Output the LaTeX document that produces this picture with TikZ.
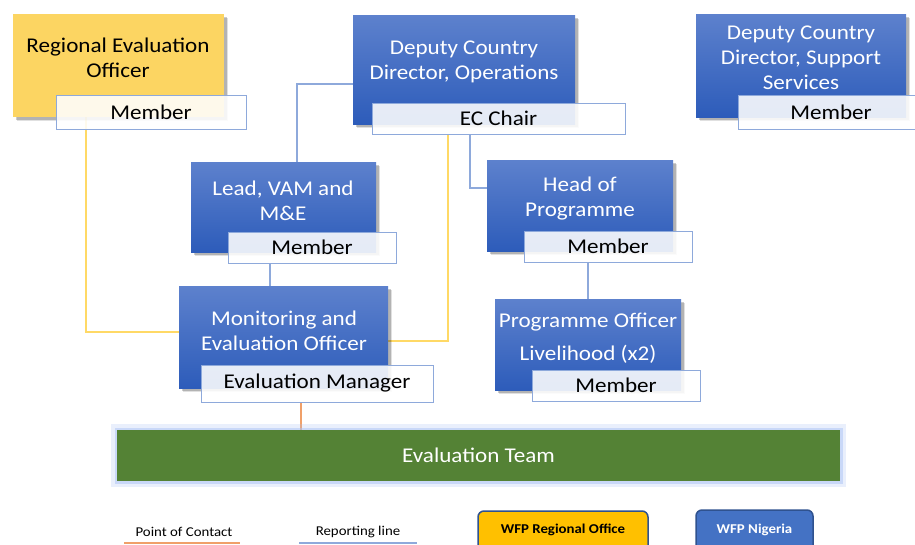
\documentclass[tikz,border=0pt]{standalone}
\usepackage{fontspec}
\setmainfont{Carlito}[FakeStretch=1.1]
\usetikzlibrary{shadows,calc}
\definecolor{bTop}{RGB}{93,129,205}
\definecolor{bBot}{RGB}{45,92,186}
\definecolor{reoY}{RGB}{252,213,98}
\definecolor{lblBorder}{RGB}{142,169,219}
\definecolor{repBlue}{RGB}{142,169,219}
\definecolor{pocY}{RGB}{255,217,102}
\definecolor{conOr}{RGB}{240,160,105}
\definecolor{teamG}{RGB}{84,130,53}
\definecolor{glowB}{RGB}{170,195,245}
\definecolor{wfpY}{RGB}{255,192,0}
\definecolor{wfpB}{RGB}{68,114,196}
\definecolor{legBorder}{RGB}{47,82,143}
\newcommand\bigtxt{\fontsize{21}{25}\selectfont}
\newcommand\legtxt{\fontsize{13.5}{16}\selectfont}
\pgfdeclarelayer{back}
\pgfdeclarelayer{bg}
\pgfsetlayers{back,bg,main}
\tikzset{
  boxbase/.style={rectangle, inner sep=0pt,
    general shadow={shadow xshift=3.5pt, shadow yshift=-4pt, fill=black, opacity=0.12},
    general shadow={shadow xshift=2.5pt, shadow yshift=-3pt, fill=black, opacity=0.2}},
  bluebox/.style={boxbase, top color=bTop, bottom color=bBot, draw=none},
  ybox/.style={boxbase, fill=reoY, draw=none},
  lbl/.style={rectangle, draw=lblBorder, line width=0.9pt, fill=white, fill opacity=0.88, text opacity=1, font=\bigtxt, inner sep=0pt},
  wtxt/.style={text=white, align=center, font=\bigtxt, inner sep=0pt},
  btxt/.style={text=black, align=center, font=\bigtxt, inner sep=0pt},
  rep/.style={draw=repBlue, line width=1.1pt},
  poc/.style={draw=pocY, line width=1.1pt},
  con/.style={draw=conOr, line width=1.3pt},
  legbox/.style={rectangle, rounded corners=6pt, draw=legBorder, line width=1.5pt, inner sep=0pt, font=\legtxt\bfseries},
  legline/.style={line width=2pt},
}
\begin{document}
\begin{tikzpicture}[x=1pt,y=-1pt]
\clip (0,0) rectangle (915,544);
\begin{pgfonlayer}{back}
\fill[white] (0,0) rectangle (915,544);
\end{pgfonlayer}

% boxes
\node[ybox, minimum width=211pt, minimum height=103pt] (reo) at (118.5,65.5) {};
\node[btxt] (reot) at (118,57.5) {Regional Evaluation\\Officer};
\node[lbl, minimum width=190pt, minimum height=34pt] (reom) at (151,112) {Member};

\node[bluebox, minimum width=222pt, minimum height=109pt] (ops) at (464,69.5) {};
\node[wtxt] (opst) at (464,62) {Deputy Country\\Director, Operations};
\node[lbl, minimum width=253pt, minimum height=31pt] (ecchair) at (498.5,118.5) {EC Chair};

\node[bluebox, minimum width=210pt, minimum height=103pt] (sup) at (801,65.5) {};
\node[wtxt] (supt) at (801,58) {Deputy Country\\Director, Support\\Services};
\node[lbl, minimum width=186pt, minimum height=34pt] (supm) at (831,112) {Member};

\node[bluebox, minimum width=185pt, minimum height=90pt] (lead) at (283.5,207) {};
\node[wtxt] (leadt) at (283,200.5) {Lead, VAM and\\M\&E};
\node[lbl, minimum width=168pt, minimum height=31pt] (leadm) at (312,247.5) {Member};

\node[bluebox, minimum width=186pt, minimum height=91pt] (head) at (580,205.5) {};
\node[wtxt] (headt) at (580,198.5) {Head of\\Programme};
\node[lbl, minimum width=168pt, minimum height=31pt] (headm) at (608,246.5) {Member};

\node[bluebox, minimum width=209pt, minimum height=102pt] (mne) at (283.5,337) {};
\node[wtxt] (mnet) at (284,330.5) {Monitoring and\\Evaluation Officer};
\node[lbl, minimum width=232pt, minimum height=37pt] (emm) at (317,383.5) {Evaluation Manager};

\node[bluebox, minimum width=186pt, minimum height=91pt] (po) at (588,344.5) {};
\node[wtxt] (pot) at (588,338.5) {Programme Officer\\[8pt]Livelihood (x2)};
\node[lbl, minimum width=168pt, minimum height=31pt] (pom) at (616,385.5) {Member};

\node[rectangle, draw=glowB, line width=6pt, draw opacity=0.25, minimum width=729pt, minimum height=57pt, inner sep=0pt] (glow) at (478.5,455.5) {};
\node[rectangle, draw=glowB, line width=3pt, draw opacity=0.5, minimum width=725pt, minimum height=53pt, inner sep=0pt] (glow2) at (478.5,455.5) {};
\node[rectangle, fill=teamG, minimum width=723pt, minimum height=51pt, inner sep=0pt, text=white, font=\bigtxt] (team) at (478.5,455.5) {Evaluation Team};

% legend
\node[font=\legtxt, inner sep=0pt] (legpoc) at (184,532) {Point of Contact};
\node[font=\legtxt, inner sep=0pt] (legrep) at (358,532) {Reporting line};
\coordinate (lp1) at (124,543);
\coordinate (lp2) at (240,543);
\coordinate (lr1) at (299,543);
\coordinate (lr2) at (417,543);
\draw[legline, draw=conOr] (lp1) -- (lp2);
\draw[legline, draw=repBlue] (lr1) -- (lr2);
\node[legbox, fill=wfpY, text=black, minimum width=170pt, minimum height=42pt] (wfpro) at (563,532) {};
\node[font=\legtxt\bfseries, inner sep=0pt] (wfprot) at (563,530) {WFP Regional Office};
\node[legbox, fill=wfpB, minimum width=117pt, minimum height=42pt] (wfpng) at (754.5,531) {};
\node[font=\legtxt\bfseries, text=white, inner sep=0pt] (wfpngt) at (754.5,530) {WFP Nigeria};

% connectors
\coordinate (k1) at (297,84);
\coordinate (k2) at (470,188);
\coordinate (k3) at (270,0);
\coordinate (k5) at (86,332);
\coordinate (k6) at (448,341);
\coordinate (k7) at (301,0);
\begin{pgfonlayer}{bg}
\draw[rep] (lead.north -| k1) |- (ops.west |- k1);
\draw[rep] (ecchair.south -| k2) |- (head.west |- k2);
\draw[rep] (leadm.south -| k3) -- (mne.north -| k3);
\draw[rep] (headm.south -| po.north) -- (po.north);
\draw[poc] (reo.south -| k5) |- (mne.west |- k5);
\draw[poc] (ecchair.south -| k6) |- (mne.east |- k6);
\draw[con] (emm.south -| k7) -- (team.north -| k7);
\end{pgfonlayer}
\end{tikzpicture}
\end{document}
